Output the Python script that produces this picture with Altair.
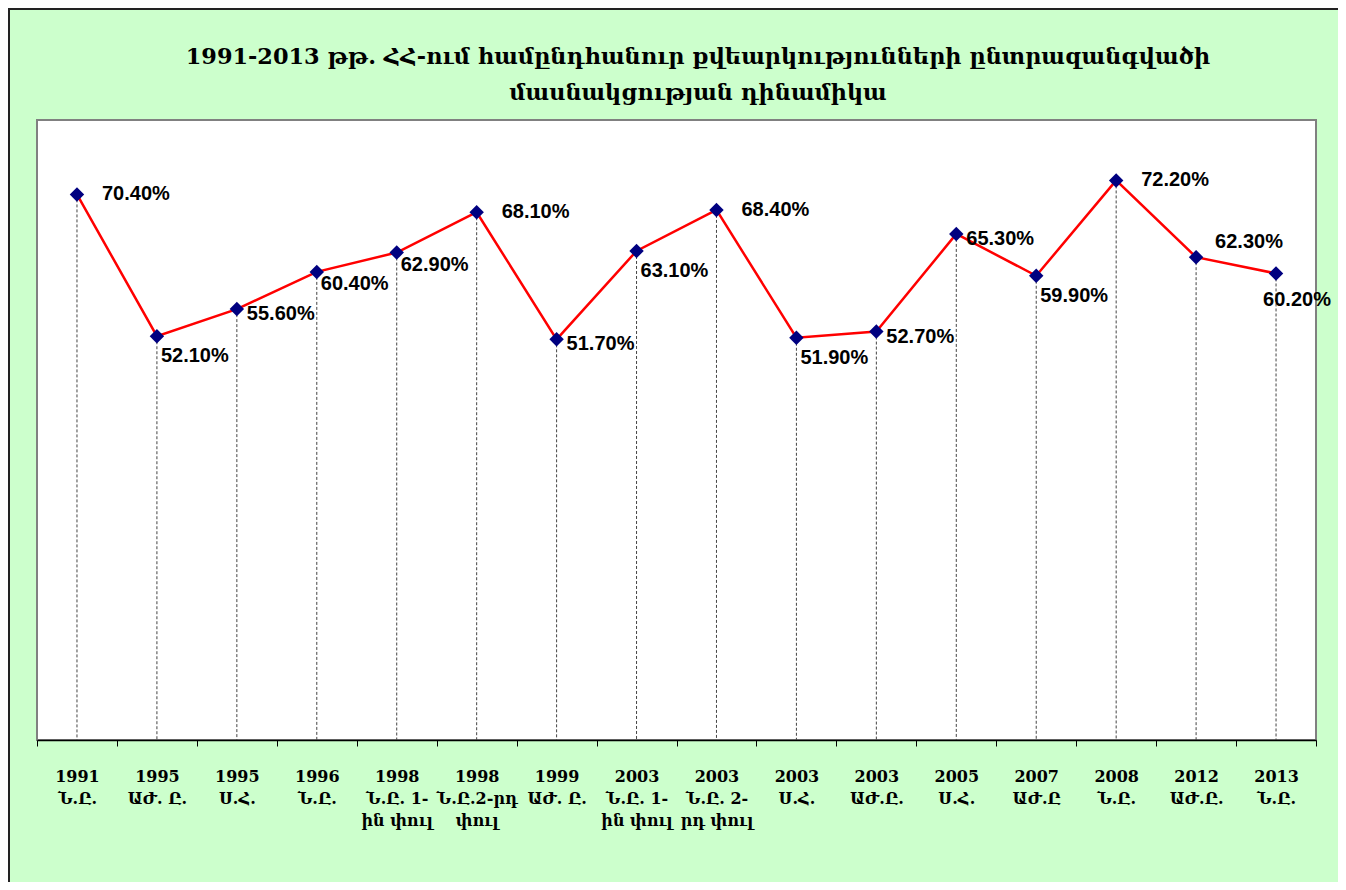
import altair as alt
import pandas as pd

years = ["1991", "1995", "1995", "1996", "1998", "1998", "1999", "2003",
         "2003", "2003", "2003", "2005", "2007", "2008", "2012", "2013"]
elections = ["Ն.Ը.", "ԱԺ. Ը.", "Ս.Հ.", "Ն.Ը.", "Ն.Ը. 1-\nին փուլ", "Ն.Ը.2-րդ\nփուլ",
             "ԱԺ. Ը.", "Ն.Ը. 1-\nին փուլ", "Ն.Ը. 2-\nրդ փուլ", "Ս.Հ.", "ԱԺ.Ը.",
             "Ս.Հ.", "ԱԺ.Ը", "Ն.Ը.", "ԱԺ.Ը.", "Ն.Ը."]
turnout = [70.4, 52.1, 55.6, 60.4, 62.9, 68.1, 51.7, 63.1, 68.4, 51.9, 52.7,
           65.3, 59.9, 72.2, 62.3, 60.2]
label_place = ["R", "B", "r", "b", "b", "R", "r", "B", "R", "B", "r", "r", "B", "R", "A", "C"]

title_lines = ["1991-2013 թթ. ՀՀ-ում համընդհանուր քվեարկությունների ընտրազանգվածի",
               "մասնակցության դինամիկա"]

categories = [f"{y}\n{e}" for y, e in zip(years, elections)]
df = pd.DataFrame({
    "cat": categories,
    "value": turnout,
    "label": [f"{v:.2f}%" for v in turnout],
    "place": label_place,
})

W, H = 1279, 620
PAD = {"left": 29, "top": 112, "right": 22, "bottom": 142}

x = alt.X("cat:N", sort=categories, title=None,
          scale=alt.Scale(paddingInner=0, paddingOuter=0),
          axis=alt.Axis(labelExpr="split(datum.label, '\\n')", labelAngle=0,
                        labelFont="DejaVu Serif", labelFontSize=16, labelFontWeight="bold",
                        labelColor="black", labelLineHeight=22, labelPadding=30,
                        labelBaseline="middle",
                        domainColor="black", domainWidth=1.5, tickColor="black",
                        tickSize=6, tickWidth=1, tickBand="extent", grid=False))
y = alt.Y("value:Q", scale=alt.Scale(domain=[0, 80]), axis=None)

base = alt.Chart(df)

drop = base.mark_rule(color="#444444", strokeDash=[3, 2], strokeWidth=1).encode(
    x=x, y=y, y2=alt.datum(0))
line = base.mark_line(color="#FF0000", strokeWidth=2.5).encode(x=x, y=y)
pts = base.mark_point(shape="diamond", filled=True, color="#000080", size=210, opacity=1).encode(x=x, y=y)

offsets = {"R": (25, 0, "left"), "r": (10, 5, "left"), "b": (4, 12, "left"),
           "B": (4, 20, "left"), "A": (19, -15, "left"), "C": (21, 27, "center")}
texts = []
for code, (dx, dy, al) in offsets.items():
    texts.append(base.transform_filter(alt.datum.place == code).mark_text(
        align=al, baseline="middle", dx=dx, dy=dy, font="Liberation Sans",
        fontSize=20, fontWeight="bold", color="black").encode(x=x, y=y, text="label:N"))

one = pd.DataFrame({"a": [0]})
title_marks = []
for i, t in enumerate(title_lines):
    title_marks.append(alt.Chart(one).mark_text(
        font="DejaVu Serif", fontSize=22.4, fontWeight="bold", color="black",
        align="center", baseline="middle").encode(
        x=alt.value(661), y=alt.value(-63 + 36 * i), text=alt.value(t)))

left_border = alt.Chart(one).mark_rule(color="#222222", strokeWidth=2).encode(
    x=alt.value(-PAD["left"] + 1), y=alt.value(-PAD["top"]), y2=alt.value(H + PAD["bottom"]))
top_border = alt.Chart(one).mark_rule(color="#222222", strokeWidth=2).encode(
    x=alt.value(-PAD["left"]), x2=alt.value(W + PAD["right"]), y=alt.value(-PAD["top"] + 1))

chart = alt.layer(drop, line, pts, *texts, *title_marks, left_border, top_border).properties(
    width=W, height=H,
    background="#CCFFCC",
    padding=PAD,
    autosize=alt.AutoSizeParams(type="none"),
).configure_view(fill="white", stroke="#808080", strokeWidth=2)

chart.save("out.html", embed_options={"renderer": "svg", "actions": False})
